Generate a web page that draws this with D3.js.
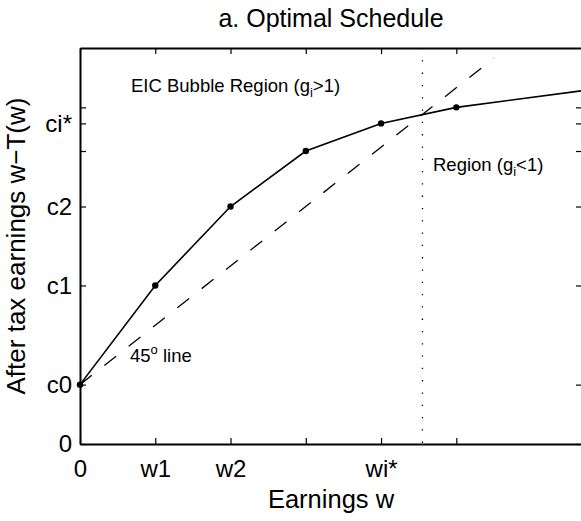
<!DOCTYPE html>
<html>
<head>
<meta charset="utf-8">
<script src="https://cdn.jsdelivr.net/npm/d3@7"></script>
<style>
  html, body { margin: 0; padding: 0; background: #fff; }
  svg { display: block; }
  text { font-family: "Liberation Sans", Arial, Helvetica, sans-serif; fill: #000; }
</style>
</head>
<body>
<svg id="chart" width="581" height="521"></svg>
<script>
// ---- data ----
const earnings = [0, 1, 2, 3, 4, 5, 6.67];
const afterTax = [1, 2.67, 4.0, 4.935, 5.40, 5.67, 5.95];
const markerCount = 6; // points shown with dots
const xTicks = [0, 1, 2, 3, 4, 5];
const xTickLabels = ["0", "w1", "w2", "", "wi*", ""];
const yTicks = [0, 1, 2.67, 4.0, 4.935, 5.40, 5.67];
const yTickLabels = ["0", "c0", "c1", "c2", "", "ci*", ""];
const lineX = [0, 5.5];     // 45 degree line
const lineY = [1, 6.5];
const wiStar = 4.55;        // dotted vertical line
const xDomain = [0, 6.67];
const yDomain = [0, 6.67];

// ---- layout ----
const svg = d3.select("#chart");
const L = 80, R = 582, T = 48, B = 444;
const x = d3.scaleLinear().domain(xDomain).range([L, R]);
const y = d3.scaleLinear().domain(yDomain).range([B, T]);

// 45 degree dashed line
svg.append("path")
  .attr("d", d3.line()(lineX.map((d, i) => [x(d), y(lineY[i])])))
  .attr("fill", "none").attr("stroke", "#000").attr("stroke-width", 1.3)
  .attr("stroke-dasharray", "15,16");

// dotted vertical line
svg.append("line")
  .attr("x1", x(wiStar)).attr("x2", x(wiStar))
  .attr("y1", y(yDomain[1])).attr("y2", y(0))
  .attr("stroke", "#000").attr("stroke-width", 1.3)
  .attr("stroke-dasharray", "1.3,11");

// schedule line
const pts = earnings.map((d, i) => [x(d), y(afterTax[i])]);
svg.append("path")
  .attr("d", d3.line()(pts))
  .attr("fill", "none").attr("stroke", "#000").attr("stroke-width", 1.6);
svg.selectAll("circle.pt").data(pts.slice(0, markerCount)).enter()
  .append("circle").attr("class", "pt")
  .attr("cx", d => d[0]).attr("cy", d => d[1]).attr("r", 3.2).attr("fill", "#000");

// axes
const tickLen = 6;
const fmtX = (d, i) => xTickLabels[i];
const fmtY = (d, i) => yTickLabels[i];

const gBottom = svg.append("g").attr("transform", `translate(0,${B})`)
  .call(d3.axisBottom(x).tickValues(xTicks).tickFormat(fmtX).tickSizeInner(-tickLen).tickSizeOuter(0).tickPadding(16));
const gTop = svg.append("g").attr("transform", `translate(0,${T})`)
  .call(d3.axisTop(x).tickValues(xTicks).tickFormat("").tickSizeInner(-tickLen).tickSizeOuter(0));
const gLeft = svg.append("g").attr("transform", `translate(${L},0)`)
  .call(d3.axisLeft(y).tickValues(yTicks).tickFormat(fmtY).tickSizeInner(-tickLen).tickSizeOuter(0).tickPadding(8));
const gRight = svg.append("g").attr("transform", `translate(${R},0)`)
  .call(d3.axisRight(y).tickValues(yTicks).tickFormat("").tickSizeInner(-tickLen).tickSizeOuter(0));

[gBottom, gTop, gLeft, gRight].forEach(g => {
  g.select(".domain").attr("stroke", "#000").attr("stroke-width", 2);
  g.selectAll(".tick line").attr("stroke", "#000").attr("stroke-width", 1.2);
  g.selectAll(".tick text").attr("font-size", 24).attr("fill", "#000")
    .style("font-family", '"Liberation Sans", Arial, sans-serif');
});
gBottom.selectAll(".tick text").attr("dy", "0.71em");

// title and labels
svg.append("text").attr("x", (L + R) / 2).attr("y", 27).attr("text-anchor", "middle")
  .attr("font-size", 25).text("a. Optimal Schedule");
svg.append("text").attr("x", (L + R) / 2).attr("y", 508).attr("text-anchor", "middle")
  .attr("font-size", 25.5).text("Earnings w");
svg.append("text").attr("transform", `translate(25,${(T + B) / 2}) rotate(-90)`)
  .attr("text-anchor", "middle").attr("font-size", 26).text("After tax earnings w\u2212T(w)");

// annotations
const a1 = svg.append("text").attr("x", 131).attr("y", 91.5).attr("font-size", 18.5);
a1.append("tspan").text("EIC Bubble Region (g");
a1.append("tspan").attr("font-size", 13).attr("dy", 5).text("i");
a1.append("tspan").attr("dy", -5).text(">1)");

const a2 = svg.append("text").attr("x", 433).attr("y", 171).attr("font-size", 18.5);
a2.append("tspan").text("Region (g");
a2.append("tspan").attr("font-size", 13).attr("dy", 5).text("i");
a2.append("tspan").attr("dy", -5).text("<1)");

const a3 = svg.append("text").attr("x", 130).attr("y", 361.5).attr("font-size", 18.5);
a3.append("tspan").text("45");
a3.append("tspan").attr("font-size", 13).attr("dy", -8).text("o");
a3.append("tspan").attr("dy", 8).text(" line");
</script>
</body>
</html>
